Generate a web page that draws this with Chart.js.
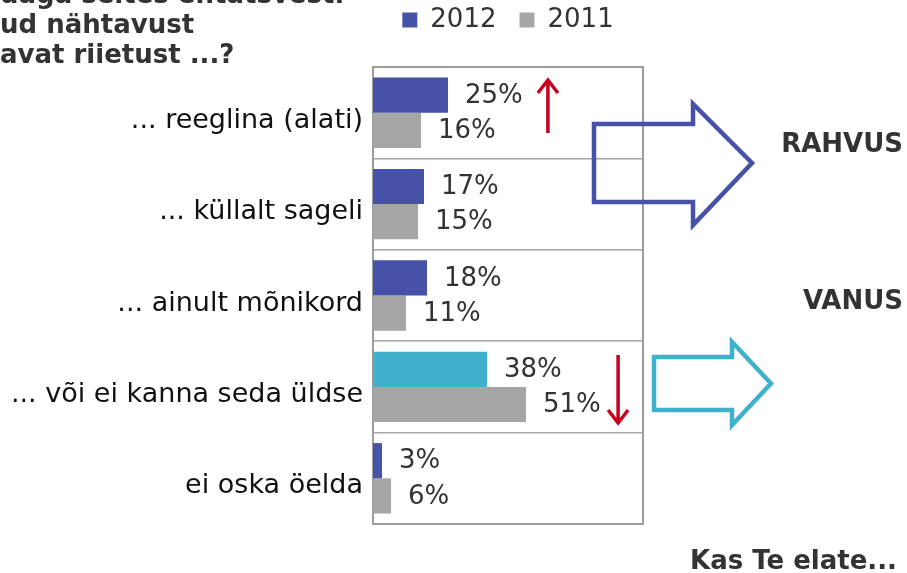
<!DOCTYPE html>
<html>
<head>
<meta charset="utf-8">
<script src="https://cdn.jsdelivr.net/npm/chart.js@4.4.1/dist/chart.umd.min.js"></script>
<style>
  body { margin: 0; background: #fff; }
  #wrap { position: relative; width: 907px; height: 573px; overflow: hidden; font-family: "DejaVu Sans", sans-serif; }
  #wrap canvas { position: absolute; left: 0; top: 0; }
  .txt { position: absolute; font-size: 26px; line-height: 30px; color: #333; font-weight: bold; white-space: nowrap; }
</style>
</head>
<body>
<div id="wrap">
  <canvas id="chart" width="907" height="573"></canvas>
  <div class="txt" style="left:0; top:-21px;">uaga seltes ehtatsvest.<br>ud nähtavust<br>avat riietust ...?</div>
  <div class="txt" style="right:4px; top:128px;">RAHVUS</div>
  <div class="txt" style="right:4px; top:285px;">VANUS</div>
  <div class="txt" style="right:10px; top:545px;">Kas Te elate...</div>
</div>
<script>
var categories = ["... reeglina (alati)", "... küllalt sageli", "... ainult mõnikord", "... või ei kanna seda üldse", "ei oska öelda"]
var values2012 = [25, 17, 18, 38, 3]
var values2011 = [16, 15, 11, 51, 6]
var seriesNames = ["2012", "2011"]

var blue = "#4652A8"
var cyan = "#40B1CC"
var gray = "#A6A6A6"
var red = "#C8001E"

// 2012 bar of the "not at all" row is highlighted
var colors2012 = values2012.map(function(v, i){ return i === 3 ? cyan : blue })

var framePlugin = {
    id: "frame",
    afterInit: function(chart){
        var lg = chart.legend
        var fit = lg.fit
        lg.fit = function(){
            fit.call(this)
            this.height = 83
        }
    },
    beforeDatasetsDraw: function(chart){
        var a = chart.chartArea
        var ctx = chart.ctx
        ctx.save()
        ctx.strokeStyle = "#9C9C9C"
        ctx.lineWidth = 2
        ctx.strokeRect(a.left, a.top, a.right - a.left, a.bottom - a.top)
        ctx.restore()
    },
    afterDatasetsDraw: function(chart){
        var ctx = chart.ctx
        ctx.save()
        ctx.font = "26px 'DejaVu Sans'"
        ctx.fillStyle = "#333"
        ctx.textBaseline = "middle"
        ctx.textAlign = "left"
        chart.data.datasets.forEach(function(ds, d){
            chart.getDatasetMeta(d).data.forEach(function(bar, i){
                ctx.fillText(ds.data[i] + "%", bar.x + 17, bar.y + 1)
            })
        })
        ctx.restore()
    },
    afterDraw: function(chart){
        var ctx = chart.ctx
        var x = chart.scales.x
        ctx.save()
        // red change arrows
        ctx.strokeStyle = red
        ctx.lineWidth = 3.5
        ctx.lineCap = "butt"
        var ux = x.getPixelForValue(58.3)
        ctx.beginPath()
        ctx.moveTo(ux, 133); ctx.lineTo(ux, 80)
        ctx.moveTo(ux - 10, 93); ctx.lineTo(ux, 80); ctx.lineTo(ux + 10, 93)
        ctx.stroke()
        var dx = x.getPixelForValue(81.7)
        ctx.beginPath()
        ctx.moveTo(dx, 355); ctx.lineTo(dx, 423)
        ctx.moveTo(dx - 10, 410); ctx.lineTo(dx, 423); ctx.lineTo(dx + 10, 410)
        ctx.stroke()

        // big outline arrows
        function bigArrow(left, top, bottom, headX, headTop, headBottom, tipX, color){
            var mid = (top + bottom) / 2
            ctx.beginPath()
            ctx.moveTo(left, top)
            ctx.lineTo(headX, top)
            ctx.lineTo(headX, headTop)
            ctx.lineTo(tipX, mid)
            ctx.lineTo(headX, headBottom)
            ctx.lineTo(headX, bottom)
            ctx.lineTo(left, bottom)
            ctx.closePath()
            ctx.strokeStyle = color
            ctx.lineWidth = 4.5
            ctx.lineJoin = "miter"
            ctx.stroke()
        }
        bigArrow(594, 124, 202, 693, 104, 225, 752, blue)
        bigArrow(654, 357, 410, 732, 342, 425, 771, cyan)
        ctx.restore()
    }
}

var ctx = document.getElementById("chart").getContext("2d")
var myChart = new Chart(ctx, {
    type: "bar",
    data: {
        labels: categories,
        datasets: [{
            label: seriesNames[0],
            data: values2012,
            backgroundColor: colors2012
        }, {
            label: seriesNames[1],
            data: values2011,
            backgroundColor: gray
        }]
    },
    options: {
        indexAxis: "y",
        responsive: false,
        animation: false,
        events: [],
        categoryPercentage: 0.77,
        barPercentage: 1,
        layout: { padding: { left: 0, right: 264, top: -16, bottom: 49 } },
        scales: {
            x: { display: false, min: 0, max: 90 },
            y: {
                afterFit: function(scale){ scale.width = 373 },
                grid: { offset: true, color: "#A6A6A6", lineWidth: 1.5, drawTicks: false },
                border: { display: false },
                ticks: { color: "#111", padding: 10, labelOffset: 8, font: { family: "DejaVu Sans", size: 27 } }
            }
        },
        plugins: {
            tooltip: { enabled: false },
            legend: {
                position: "top",
                fullSize: false,
                labels: {
                    boxWidth: 15,
                    boxHeight: 15,
                    padding: 23,
                    color: "#333",
                    font: { family: "DejaVu Sans", size: 26 },
                    generateLabels: function(chart){
                        return chart.data.datasets.map(function(ds, i){
                            return {
                                text: ds.label,
                                fillStyle: i === 0 ? blue : gray,
                                strokeStyle: i === 0 ? blue : gray,
                                lineWidth: 0,
                                datasetIndex: i,
                                fontColor: "#333"
                            }
                        })
                    }
                }
            }
        }
    },
    plugins: [framePlugin]
})
</script>
</body>
</html>
